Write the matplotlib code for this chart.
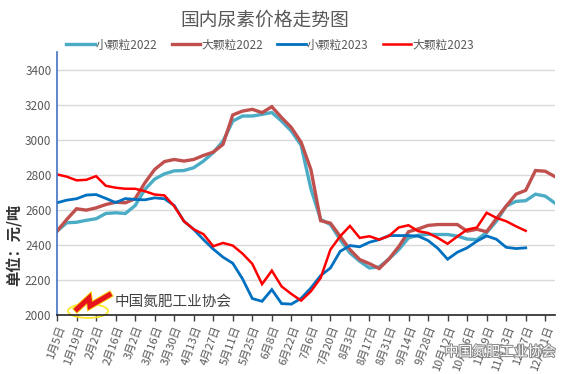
import matplotlib
matplotlib.use("Agg")
import matplotlib.pyplot as plt
import matplotlib.patheffects as pe
from matplotlib.patches import Ellipse

plt.rcParams['font.family'] = ['Noto Sans CJK SC', 'DejaVu Sans']

title = "国内尿素价格走势图"
series_names = ["小颗粒2022", "大颗粒2022", "小颗粒2023", "大颗粒2023"]
series_colors = ["#4BACC6", "#C0504D", "#0070C0", "#FF0000"]

tick_labels = ["1月5日", "1月19日", "2月2日", "2月16日", "3月2日", "3月16日", "3月30日",
               "4月13日", "4月27日", "5月11日", "5月25日", "6月8日", "6月22日", "7月6日",
               "7月20日", "8月3日", "8月17日", "8月31日", "9月14日", "9月28日", "10月12日",
               "10月26日", "11月9日", "11月23日", "12月7日", "12月21日"]

small_2022 = [2478, 2526, 2529, 2540, 2549, 2579, 2583, 2579, 2624, 2716, 2775, 2805, 2822,
              2824, 2840, 2878, 2926, 2992, 3106, 3135, 3135, 3144, 3155, 3106, 3049, 2968,
              2720, 2545, 2516, 2430, 2354, 2306, 2268, 2274, 2320, 2373, 2440, 2455, 2460,
              2459, 2459, 2450, 2433, 2430, 2470, 2535, 2621, 2648, 2652, 2689, 2678, 2638]
large_2022 = [2478, 2545, 2606, 2598, 2611, 2630, 2643, 2640, 2663, 2754, 2830, 2875, 2887,
              2878, 2887, 2910, 2929, 2973, 3141, 3163, 3173, 3154, 3188, 3126, 3069, 2985,
              2830, 2538, 2524, 2449, 2373, 2316, 2293, 2265, 2320, 2390, 2475, 2491, 2511,
              2516, 2516, 2516, 2478, 2489, 2475, 2550, 2621, 2689, 2711, 2824, 2820, 2789]
small_2023 = [2640, 2655, 2663, 2684, 2687, 2665, 2641, 2664, 2659, 2657, 2668, 2663, 2625,
              2535, 2488, 2430, 2376, 2330, 2295, 2206, 2094, 2078, 2145, 2065, 2062, 2095,
              2154, 2225, 2268, 2363, 2396, 2389, 2415, 2430, 2453, 2453, 2453, 2450, 2425,
              2380, 2318, 2358, 2383, 2421, 2451, 2432, 2386, 2379, 2383]
large_2023 = [2802, 2789, 2768, 2771, 2792, 2737, 2726, 2720, 2720, 2706, 2687, 2682, 2621,
              2535, 2489, 2461, 2392, 2411, 2396, 2350, 2292, 2176, 2253, 2163, 2120, 2082,
              2135, 2211, 2373, 2449, 2508, 2440, 2449, 2430, 2451, 2499, 2512, 2478, 2468,
              2440, 2406, 2448, 2487, 2499, 2583, 2554, 2535, 2506, 2480]

yticks = [2000, 2200, 2400, 2600, 2800, 3000, 3200, 3400]

fig = plt.figure(figsize=(5.61, 3.74), dpi=100)
ax = fig.add_axes([57/561, 1-315/374, (555-57)/561, (315-52)/374])

all_series = [small_2022, large_2022, small_2023, large_2023]
widths = [2.4, 2.4, 2.0, 1.8]
handles = []
for name, vals, c, lw in zip(series_names, all_series, series_colors, widths):
    h, = ax.plot(range(len(vals)), vals, color=c, lw=lw, solid_joinstyle='miter', label=name)
    handles.append(h)

ax.set_xlim(0, len(small_2022) - 1)
ax.set_ylim(2000, 3500)
ax.set_yticks(yticks)
ax.set_yticklabels([str(v) for v in yticks], color="#595959", fontsize=8.5)
ax.yaxis.grid(True, color="#D9D9D9", lw=1)
ax.set_axisbelow(True)
ax.tick_params(axis='y', length=0, pad=4)

ax.set_xticks(range(0, 2 * len(tick_labels), 2))
ax.set_xticklabels(tick_labels, rotation=70, ha='right', va='top', rotation_mode='anchor',
                   color="#595959", fontsize=8)
ax.tick_params(axis='x', length=4, width=1, color="#404040", pad=3)

for s in ['top', 'right']:
    ax.spines[s].set_visible(False)
ax.spines['left'].set_color("#4472C4")
ax.spines['left'].set_linewidth(1.2)
ax.spines['bottom'].set_color("#262626")
ax.spines['bottom'].set_linewidth(1.2)

fig.text(265/561, 1-20/374, title, ha='center', va='center', fontsize=13.5, color="#595959")
fig.legend(handles=handles, loc='center', bbox_to_anchor=(270/561, 1-45/374), ncol=4,
           frameon=False, fontsize=8.5, handlelength=2.4, handletextpad=0.1,
           columnspacing=1.2, labelcolor="#595959")

fig.text(15/561, 1-245/374, "单位：元/吨", rotation=90, ha='center', va='center',
         fontsize=11, color="#333333", fontweight='bold')

# association logo and name
ax.add_patch(Ellipse((88/561, 1-311/374), 40/561, 14/374, transform=fig.transFigure,
                     fill=False, ec="#F5E61E", lw=1.2, clip_on=False))
zx = [77, 89, 90, 109]
zy = [309, 298, 306, 295]
fig.lines.append(plt.Line2D([x/561 for x in zx], [1-y/374 for y in zy], transform=fig.transFigure,
                            color="#E8141B", lw=3.6, solid_joinstyle='miter',
                            path_effects=[pe.Stroke(linewidth=5.0, foreground="#F5D20A"), pe.Normal()]))
fig.text(115/561, 1-302/374, "中国氮肥工业协会", ha='left', va='center', fontsize=10.5, color="#404040")

# watermark
fig.text(500/561, 1-352/374, "中国氮肥工业协会", ha='center', va='center', fontsize=10,
         color="white", path_effects=[pe.withStroke(linewidth=1.5, foreground="#8C8C8C")])

fig.savefig("out.png", dpi=100)
